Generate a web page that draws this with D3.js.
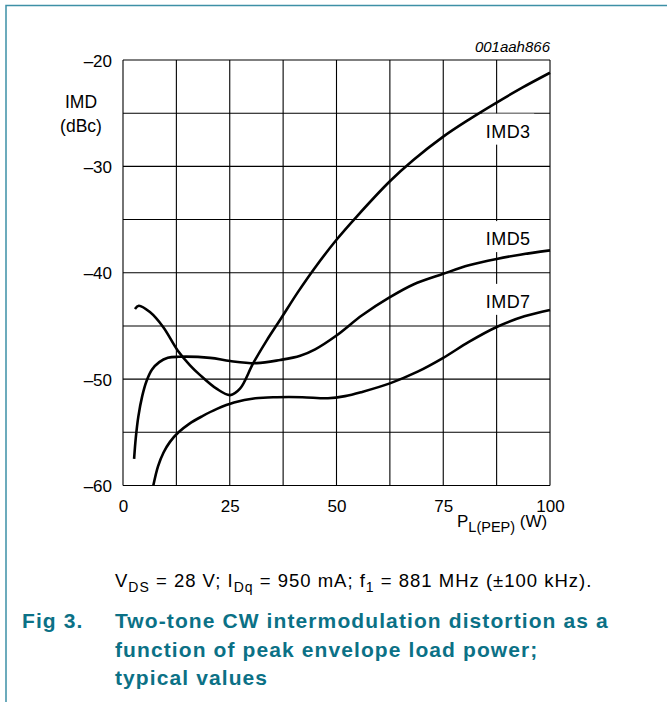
<!DOCTYPE html>
<html lang="en">
<head>
    <meta charset="UTF-8">
    <title>Fig 3 IMD</title>
    <style>
        body {
            margin: 0;
            background-color: #ffffff;
        }

        text {
            font-family: "Liberation Sans", Arial, sans-serif;
            fill: #000;
        }

        .caption-bold {
            font-weight: bold;
            font-size: 21px;
            letter-spacing: 1.1px;
            fill: #0b7186;
        }
    </style>
    <script type="text/javascript" src="https://cdn.jsdelivr.net/npm/d3@7"></script>
</head>
<body>
<div id="chart"></div>
<script type="text/javascript">
    // values: [P (W), IMD (dBc)]
    var imd3 = [[2.8, -43.4], [3.7, -43.1], [6.3, -43.7], [9.4, -45.1], [12.8, -47.3], [15.7, -48.7],
        [18.0, -49.6], [21.9, -50.9], [25.1, -51.5], [27.4, -50.9], [30.5, -48.5], [33.6, -46.4],
        [37.0, -44.3], [41.0, -41.8], [45.0, -39.5], [50.0, -36.9], [55.0, -34.6], [62.5, -31.4],
        [68.0, -29.4], [75.0, -27.2], [81.0, -25.6], [87.5, -24.0], [93.5, -22.6], [100, -21.2]];
    var imd5 = [[2.6, -57.5], [3.0, -55.5], [3.6, -53.5], [4.5, -51.6], [5.5, -50.2], [6.8, -49.1],
        [8.5, -48.4], [10.5, -48.0], [13.0, -47.9], [20.4, -48.0], [25.1, -48.3], [31.3, -48.5],
        [36.8, -48.2], [41.5, -47.8], [45.0, -47.2], [50.0, -45.9], [56.0, -44.0], [62.5, -42.3],
        [68.0, -41.1], [75.0, -40.1], [81.0, -39.3], [87.5, -38.7], [93.0, -38.3], [100, -37.9]];
    var imd7 = [[7.1, -60.0], [8.2, -58.2], [9.5, -56.9], [11.0, -55.9], [13.0, -55.0], [15.5, -54.2],
        [18.5, -53.5], [22.0, -52.8], [26.0, -52.2], [31.0, -51.8], [36.0, -51.7], [42.0, -51.7],
        [48.0, -51.8], [52.0, -51.6], [56.0, -51.2], [62.5, -50.4], [69.0, -49.3], [75.0, -48.0],
        [81.0, -46.5], [87.5, -45.1], [94.0, -44.1], [100, -43.5]];

    var xTicks = [0, 25, 50, 75, 100];
    var yTicks = [-20, -30, -40, -50, -60];
    var xGrid = [0, 12.5, 25, 37.5, 50, 62.5, 75, 87.5, 100];
    var yGrid = [-20, -25, -30, -35, -40, -45, -50, -55, -60];

    var curveLabels = [
        {name: "IMD3", x: 90.2, y: -27.3},
        {name: "IMD5", x: 90.2, y: -37.4},
        {name: "IMD7", x: 90.2, y: -43.3}
    ];

    const margin = {top: 60, left: 123},
        width = 427,
        height = 425.5;

    const svg = d3.select("#chart").append("svg")
        .attr("width", 667)
        .attr("height", 702);

    // page frame
    svg.append("path")
        .attr("d", "M6,702 L6,5.5 L667,5.5")
        .attr("fill", "none")
        .attr("stroke", "#3d90a6")
        .attr("stroke-width", 1.5);

    const g = svg.append("g")
        .attr("transform", "translate(" + margin.left + "," + margin.top + ")");

    var x = d3.scaleLinear().domain([0, 100]).range([0, width]);
    var y = d3.scaleLinear().domain([-60, -20]).range([height, 0]);

    // grid
    g.selectAll("line.vgrid")
        .data(xGrid)
        .enter().append("line")
        .attr("class", "vgrid")
        .attr("x1", d => x(d)).attr("x2", d => x(d))
        .attr("y1", 0).attr("y2", height)
        .attr("stroke", "#000")
        .attr("stroke-width", 1.1);

    g.selectAll("line.hgrid")
        .data(yGrid)
        .enter().append("line")
        .attr("class", "hgrid")
        .attr("x1", 0).attr("x2", width)
        .attr("y1", d => y(d)).attr("y2", d => y(d))
        .attr("stroke", "#000")
        .attr("stroke-width", 1.1);

    // axes (labels only)
    var fmt = d => d3.format("d")(d).replace("-", "\u2013").replace("\u2212", "\u2013");

    var yAxis = g.append("g")
        .call(d3.axisLeft(y).tickValues(yTicks).tickSize(0).tickPadding(11).tickFormat(fmt));
    yAxis.select(".domain").remove();
    yAxis.selectAll("text").attr("dy", "0.36em");

    var xAxis = g.append("g")
        .attr("transform", "translate(0," + height + ")")
        .call(d3.axisBottom(x).tickValues(xTicks).tickSize(0).tickPadding(14.5));
    xAxis.select(".domain").remove();

    g.selectAll(".tick text")
        .style("font-family", "'Liberation Sans', Arial, sans-serif")
        .style("font-size", "17px")
        .attr("fill", "#000");

    // curve labels on white boxes (boxes go under the curves)
    curveLabels.forEach(function (c) {
        g.append("rect")
            .attr("x", x(c.x) - 26)
            .attr("y", y(c.y) - 24)
            .attr("width", 52)
            .attr("height", 31)
            .attr("fill", "#fff");
        g.append("text")
            .attr("x", x(c.x))
            .attr("y", y(c.y))
            .attr("text-anchor", "middle")
            .style("font-size", "18px")
            .style("letter-spacing", "0.4px")
            .text(c.name);
    });

    // curves
    var line = d3.line()
        .x(d => x(d[0]))
        .y(d => y(d[1]))
        .curve(d3.curveCatmullRom.alpha(0.5));

    g.selectAll("path.curve")
        .data([imd3, imd5, imd7])
        .enter().append("path")
        .attr("class", "curve")
        .attr("fill", "none")
        .attr("stroke", "#000")
        .attr("stroke-width", 2.6)
        .attr("d", line);

    // axis titles
    svg.append("text")
        .attr("x", 81).attr("y", 108)
        .attr("text-anchor", "middle")
        .style("font-size", "17.5px")
        .text("IMD");
    svg.append("text")
        .attr("x", 81).attr("y", 132)
        .attr("text-anchor", "middle")
        .style("font-size", "17.5px")
        .text("(dBc)");

    var xt = svg.append("text")
        .attr("x", 457).attr("y", 527)
        .style("font-size", "17px");
    xt.append("tspan").text("P");
    xt.append("tspan").attr("dy", 5).style("font-size", "14.5px").text("L(PEP)");
    xt.append("tspan").attr("dy", -5).text(" (W)");

    svg.append("text")
        .attr("x", 550).attr("y", 52)
        .attr("text-anchor", "end")
        .style("font-size", "15px")
        .style("font-style", "italic")
        .text("001aah866");

    // conditions line
    var cond = svg.append("text")
        .attr("x", 115).attr("y", 587)
        .style("font-size", "18.5px")
        .style("letter-spacing", "1px");
    var sub = function (s) {
        cond.append("tspan").attr("dy", 5).style("font-size", "14px").text(s);
    };
    var norm = function (s) {
        cond.append("tspan").attr("dy", -5).text(s);
    };
    cond.append("tspan").text("V");
    sub("DS");
    norm(" = 28 V; I");
    sub("Dq");
    norm(" = 950 mA; f");
    sub("1");
    norm(" = 881 MHz (\u00b1100 kHz).");

    // figure caption
    svg.append("text")
        .attr("class", "caption-bold")
        .attr("x", 22).attr("y", 628)
        .text("Fig 3.");
    var capLines = ["Two-tone CW intermodulation distortion as a",
        "function of peak envelope load power;",
        "typical values"];
    svg.selectAll("text.capline")
        .data(capLines)
        .enter().append("text")
        .attr("class", "caption-bold capline")
        .attr("x", 115)
        .attr("y", (d, i) => 628 + i * 28.5)
        .text(d => d);
</script>
</body>
</html>
